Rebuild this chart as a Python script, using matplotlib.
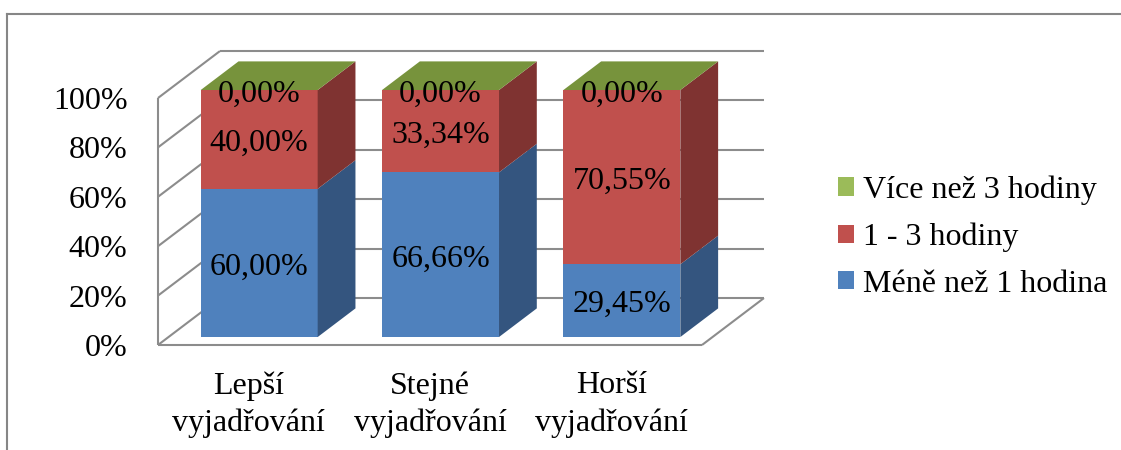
import matplotlib.pyplot as plt
from matplotlib.patches import Polygon, Patch
from matplotlib.lines import Line2D

plt.rcParams['font.family'] = ['Liberation Serif', 'DejaVu Serif']

# data
categories = ['Lepší\nvyjadřování', 'Stejné\nvyjadřování', 'Horší\nvyjadřování']
series_names = ['Méně než 1 hodina', '1 - 3 hodiny', 'Více než 3 hodiny']
less_1h = [60.00, 66.66, 29.45]
hours_1_3 = [40.00, 33.34, 70.55]
more_3h = [0.00, 0.00, 0.00]
yticks = [0, 20, 40, 60, 80, 100]

series = [less_1h, hours_1_3, more_3h]
front_colors = ['#4F81BD', '#C0504D', '#9BBB59']
side_colors = ['#34557F', '#7F3331', '#637B30']
top_colors = ['#4F81BD', '#C0504D', '#77933C']
grid_color = '#8C8C8C'
FS = 23

# oblique "3d" projection: full depth shift in data units
DX = 0.3416
DY = 19.0
z0, z1 = 0.17, 0.78      # bar front / back depth
bar_w = 0.645

W, H = 1121, 450
fig = plt.figure(figsize=(W / 100, H / 100), dpi=100)
ax = fig.add_axes([158 / W, 105 / H, 544 / W, 247 / H])
ax.set_xlim(-0.5, 2.5)
ax.set_ylim(0, 100)
for s in ax.spines.values():
    s.set_visible(False)

def line(xs, ys):
    ax.plot(xs, ys, color=grid_color, lw=1.5, clip_on=False, solid_capstyle='butt')

# walls / gridlines
for v in yticks:
    line([-0.5, -0.5 + DX], [v, v + DY])
    line([-0.5 + DX, 2.5 + DX], [v + DY, v + DY])
line([-0.5, -0.5], [0, 100])
line([-0.5, 2.5], [0, 0])
line([2.5, 2.5 + DX], [0, DY])

def poly(pts, color):
    ax.add_patch(Polygon(pts, closed=True, facecolor=color, edgecolor='none',
                         clip_on=False, zorder=3))

# stacked bars
for i in range(len(categories)):
    bottom = 0
    xl = i - bar_w / 2
    xr = i + bar_w / 2
    for s, vals in enumerate(series):
        v = vals[i]
        top = bottom + v
        if v > 0:
            poly([(xl + z0 * DX, bottom + z0 * DY), (xr + z0 * DX, bottom + z0 * DY),
                  (xr + z0 * DX, top + z0 * DY), (xl + z0 * DX, top + z0 * DY)],
                 front_colors[s])
            poly([(xr + z0 * DX, bottom + z0 * DY), (xr + z1 * DX, bottom + z1 * DY),
                  (xr + z1 * DX, top + z1 * DY), (xr + z0 * DX, top + z0 * DY)],
                 side_colors[s])
        bottom = top
    # top face coloured by the last series
    poly([(xl + z0 * DX, bottom + z0 * DY), (xr + z0 * DX, bottom + z0 * DY),
          (xr + z1 * DX, bottom + z1 * DY), (xl + z1 * DX, bottom + z1 * DY)],
         top_colors[-1])

    # data labels
    b = 0
    for s, vals in enumerate(series):
        v = vals[i]
        ax.annotate(f'{v:.2f}%'.replace('.', ','),
                    (i + z0 * DX, b + v / 2 + z0 * DY),
                    xytext=(0, -3), textcoords='offset points',
                    ha='center', va='center', fontsize=FS, zorder=5,
                    annotation_clip=False)
        b += v

ax.set_yticks(yticks)
ax.set_yticklabels([f'{v}%' for v in yticks])
ax.set_xticks(range(len(categories)))
ax.set_xticklabels(categories, linespacing=1.35)
ax.tick_params(axis='y', length=0, pad=22, labelsize=FS)
ax.tick_params(axis='x', length=0, pad=19, labelsize=FS)

handles = [Patch(facecolor=front_colors[s]) for s in (2, 1, 0)]
labels = [series_names[s] for s in (2, 1, 0)]
ax.legend(handles, labels, loc='center left', bbox_to_anchor=(838 / W, 1 - 237 / H),
          bbox_transform=fig.transFigure, frameon=False, fontsize=FS,
          handlelength=0.5, handleheight=0.5, handletextpad=0.27,
          labelspacing=0.55, borderpad=0, borderaxespad=0)

# chart frame
fx = 7 / W
fy = 1 - 13.5 / H
fig.add_artist(Line2D([fx, 1], [fy, fy], color='#868686', lw=1.5))
fig.add_artist(Line2D([fx, fx], [0, fy], color='#868686', lw=1.5))

fig.savefig('out.png', dpi=100)
